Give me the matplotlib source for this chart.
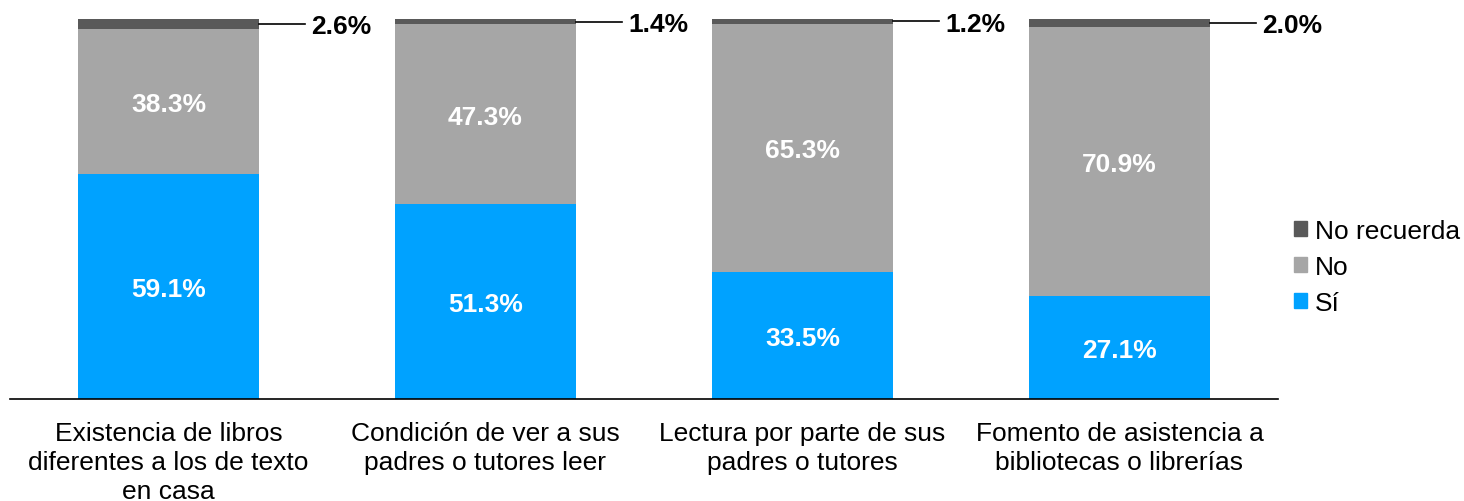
import matplotlib
matplotlib.use("Agg")
import matplotlib.pyplot as plt
from matplotlib.patches import Patch

plt.rcParams['font.family'] = ['Liberation Sans', 'DejaVu Sans']

categories = ["Existencia de libros\ndiferentes a los de texto\nen casa",
              "Condición de ver a sus\npadres o tutores leer",
              "Lectura por parte de sus\npadres o tutores",
              "Fomento de asistencia a\nbibliotecas o librerías"]
si = [59.1, 51.3, 33.5, 27.1]
no = [38.3, 47.3, 65.3, 70.9]
no_recuerda = [2.6, 1.4, 1.2, 2.0]
series_names = ["Sí", "No", "No recuerda"]
colors = ["#00A2FF", "#A6A6A6", "#595959"]

W, H = 1464, 502
fig = plt.figure(figsize=(W/100, H/100), dpi=100)
ax = fig.add_axes([10/W, (H-400)/H, 1268/W, 380/H])

x = list(range(len(categories)))
bw = 0.571
ax.bar(x, si, bw, color=colors[0])
ax.bar(x, no, bw, bottom=si, color=colors[1])
bot2 = [a + b for a, b in zip(si, no)]
ax.bar(x, no_recuerda, bw, bottom=bot2, color=colors[2])

for i in x:
    ax.text(i, si[i]/2, f"{si[i]:.1f}%", ha='center', va='center_baseline', color='white',
            fontsize=19, fontweight='bold')
    ax.text(i, si[i] + no[i]/2, f"{no[i]:.1f}%", ha='center', va='center_baseline', color='white',
            fontsize=19, fontweight='bold')
    yc = bot2[i] + no_recuerda[i]/2
    ax.plot([i + bw/2, i + bw/2 + 0.145], [yc, yc], color='black', lw=1.2, clip_on=False)
    ax.text(i + bw/2 + 0.165, yc, f"{no_recuerda[i]:.1f}%", ha='left', va='center_baseline',
            color='black', fontsize=19, fontweight='bold')

ax.set_xlim(-0.5, len(categories) - 0.5)
ax.set_ylim(0, 100)
ax.set_yticks([])
ax.set_xticks(x)
ax.set_xticklabels(categories, fontsize=19, linespacing=1.27)
ax.tick_params(axis='x', length=0, pad=16)
for s in ['top', 'right', 'left']:
    ax.spines[s].set_visible(False)
ax.spines['bottom'].set_linewidth(1.2)

handles = [Patch(color=colors[2]), Patch(color=colors[1]), Patch(color=colors[0])]
labels = [series_names[2], series_names[1], series_names[0]]
fig.legend(handles, labels, loc='center left', bbox_to_anchor=(1294/W, 1 - 268/H),
           frameon=False, fontsize=19, handlelength=0.5, handleheight=0.5,
           handletextpad=0.3, labelspacing=0.45, borderaxespad=0, borderpad=0)

fig.savefig("out.png", dpi=100)
